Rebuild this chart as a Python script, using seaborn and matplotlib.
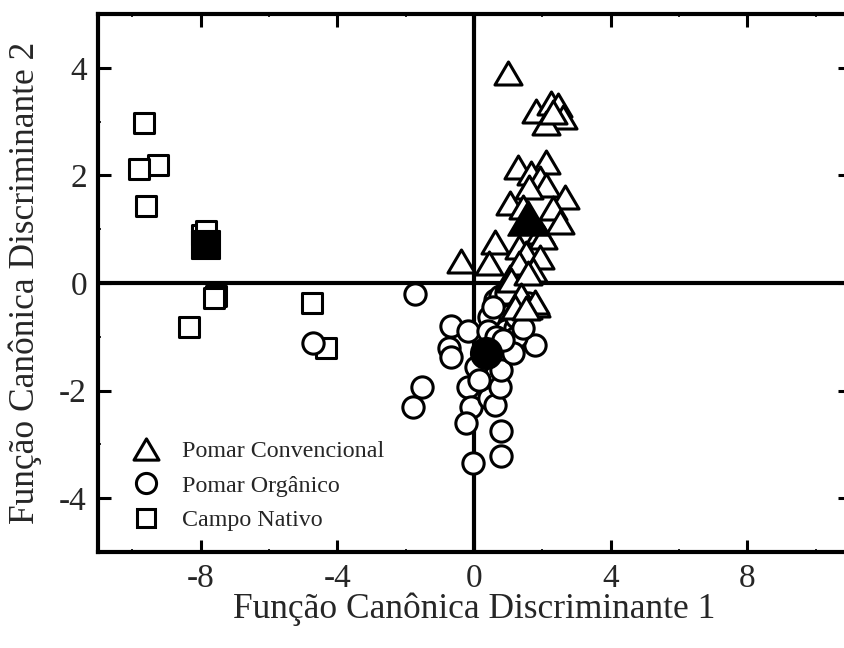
import matplotlib
matplotlib.use("Agg")
import matplotlib.pyplot as plt
from matplotlib.lines import Line2D
from matplotlib.path import Path
from matplotlib.ticker import MultipleLocator
import seaborn as sns
import pandas as pd

# Canonical discriminant scores per land use
conv_x = [0.99, 1.80, 2.26, 2.46, 2.60, 2.10, 2.31, 1.28, 2.12, 1.68, 1.92, 2.10, 2.65,
          1.61, 1.04, 1.43, 2.31, 2.51, 1.92, 2.02, 0.60, 1.33, 0.45, -0.38, 1.53, 1.92,
          1.72, 1.04, 1.33, 1.09, 1.33, 1.58, 1.82, 1.58, 1.38, 1.77, 1.19, 1.53]
conv_y = [3.90, 3.20, 3.35, 3.31, 3.09, 2.98, 3.18, 2.15, 2.25, 2.04, 1.95, 1.82, 1.60,
          1.78, 1.48, 1.42, 1.39, 1.14, 0.95, 0.86, 0.77, 0.67, 0.37, 0.40, 0.55, 0.49,
          0.24, 0.12, 0.37, 0.06, -0.32, -0.44, -0.41, 0.18, -0.22, -0.35, -0.44, -0.47]

org_x = [-4.70, -1.72, -0.67, -0.72, -0.67, -1.52, -1.77, -0.18, 0.06, -0.18, -0.08,
         -0.23, -0.04, 0.80, 0.80, 0.45, 0.60, 0.75, 0.80, 0.94, 1.19, 1.77, 0.45, 0.60,
         0.75, 1.04, 0.40, 0.65, 1.24, 1.14, 1.58, 0.94, 0.55, 1.24, 1.43, 0.16, 0.85]
org_y = [-1.11, -0.20, -0.80, -1.21, -1.37, -1.93, -2.30, -0.90, -1.56, -1.93, -2.30,
         -2.61, -3.34, -2.76, -3.21, -2.14, -2.27, -1.93, -1.62, -0.87, -0.84, -1.15, -0.63,
         -0.32, -0.25, -1.18, -0.90, -1.00, -1.00, -1.31, -0.38, -0.19, -0.44, -0.63, -0.84,
         -1.80, -1.06]

nat_x = [-9.64, -9.24, -9.79, -9.60, -7.95, -7.84, -7.54, -7.61, -8.34, -4.73, -4.32]
nat_y = [2.98, 2.19, 2.12, 1.43, 0.90, 0.96, -0.24, -0.28, -0.82, -0.38, -1.20]

# Group centroids
cent_labels = ["Pomar Convencional", "Pomar Orgânico", "Campo Nativo"]
cent_x = [1.58, 0.36, -7.85]
cent_y = [1.20, -1.31, 0.71]

groups = ["Pomar Convencional", "Pomar Orgânico", "Campo Nativo"]
x_ticks = [-8, -4, 0, 4, 8]
y_ticks = [-4, -2, 0, 2, 4]

sns.set_style("ticks")
plt.rcParams["font.family"] = ["Liberation Serif", "DejaVu Serif"]
plt.rcParams["axes.unicode_minus"] = False

tri = Path([(0, 0.85), (-1, -0.85), (1, -0.85), (0, 0.85)], closed=True)
marker_of = {"Pomar Convencional": tri, "Pomar Orgânico": "o", "Campo Nativo": "s"}
size_of = {"Pomar Convencional": 380, "Pomar Orgânico": 235, "Campo Nativo": 215}
csize_of = {"Pomar Convencional": 850, "Pomar Orgânico": 500, "Campo Nativo": 400}

df = pd.concat([
    pd.DataFrame({"x": conv_x, "y": conv_y, "grupo": groups[0]}),
    pd.DataFrame({"x": org_x, "y": org_y, "grupo": groups[1]}),
    pd.DataFrame({"x": nat_x, "y": nat_y, "grupo": groups[2]}),
])
cent = pd.DataFrame({"x": cent_x, "y": cent_y, "grupo": cent_labels})

fig = plt.figure(figsize=(8.45, 6.48), dpi=100)
ax = fig.add_axes([98 / 845, 96 / 648, 752 / 845, 538 / 648])

ax.axhline(0, color="black", lw=3, zorder=1)
ax.axvline(0, color="black", lw=3, zorder=1)

for z, g in enumerate(["Campo Nativo", "Pomar Orgânico", "Pomar Convencional"]):
    sub = df[df["grupo"] == g]
    sns.scatterplot(data=sub, x="x", y="y", ax=ax, marker=marker_of[g],
                    s=size_of[g], color="white", edgecolor="black",
                    linewidth=2.2, zorder=3 + z, legend=False)

for g in groups:
    sub = cent[cent["grupo"] == g]
    sns.scatterplot(data=sub, x="x", y="y", ax=ax, marker=marker_of[g],
                    s=csize_of[g], color="black", edgecolor="black",
                    linewidth=1.5, zorder=10, legend=False)

ax.set_xlim(-11, 11)
ax.set_ylim(-5, 5)
ax.set_xticks(x_ticks)
ax.set_yticks(y_ticks)
ax.xaxis.set_minor_locator(MultipleLocator(2))
ax.yaxis.set_minor_locator(MultipleLocator(1))

for s in ax.spines.values():
    s.set_linewidth(3)
    s.set_color("black")
    s.set_visible(True)

ax.tick_params(which="major", direction="in", length=9, width=2.2,
               top=True, right=True, labelsize=24, pad=8, color="black")
ax.tick_params(which="minor", direction="in", length=2, width=1.2,
               top=True, right=True, color="black")

ax.set_xlabel("Função Canônica Discriminante 1", fontsize=25.5)
ax.set_ylabel("Função Canônica Discriminante 2", fontsize=25.5)
ax.xaxis.set_label_coords(0.5, -0.075)
ax.yaxis.set_label_coords(-0.075, 0.5)

handles = [
    Line2D([], [], marker=tri, ls="none", markersize=18, markerfacecolor="white",
           markeredgecolor="black", markeredgewidth=2.2),
    Line2D([], [], marker="o", ls="none", markersize=14.5, markerfacecolor="white",
           markeredgecolor="black", markeredgewidth=2.2),
    Line2D([], [], marker="s", ls="none", markersize=13.5, markerfacecolor="white",
           markeredgecolor="black", markeredgewidth=2.2),
]
ax.legend(handles, groups, loc="upper left", bbox_to_anchor=(0.045, 0.207),
          frameon=False, fontsize=17.3, handlelength=1.2, handletextpad=0.9,
          labelspacing=0.52, borderpad=0, borderaxespad=0)

fig.savefig("out.png", dpi=100, facecolor="white")
